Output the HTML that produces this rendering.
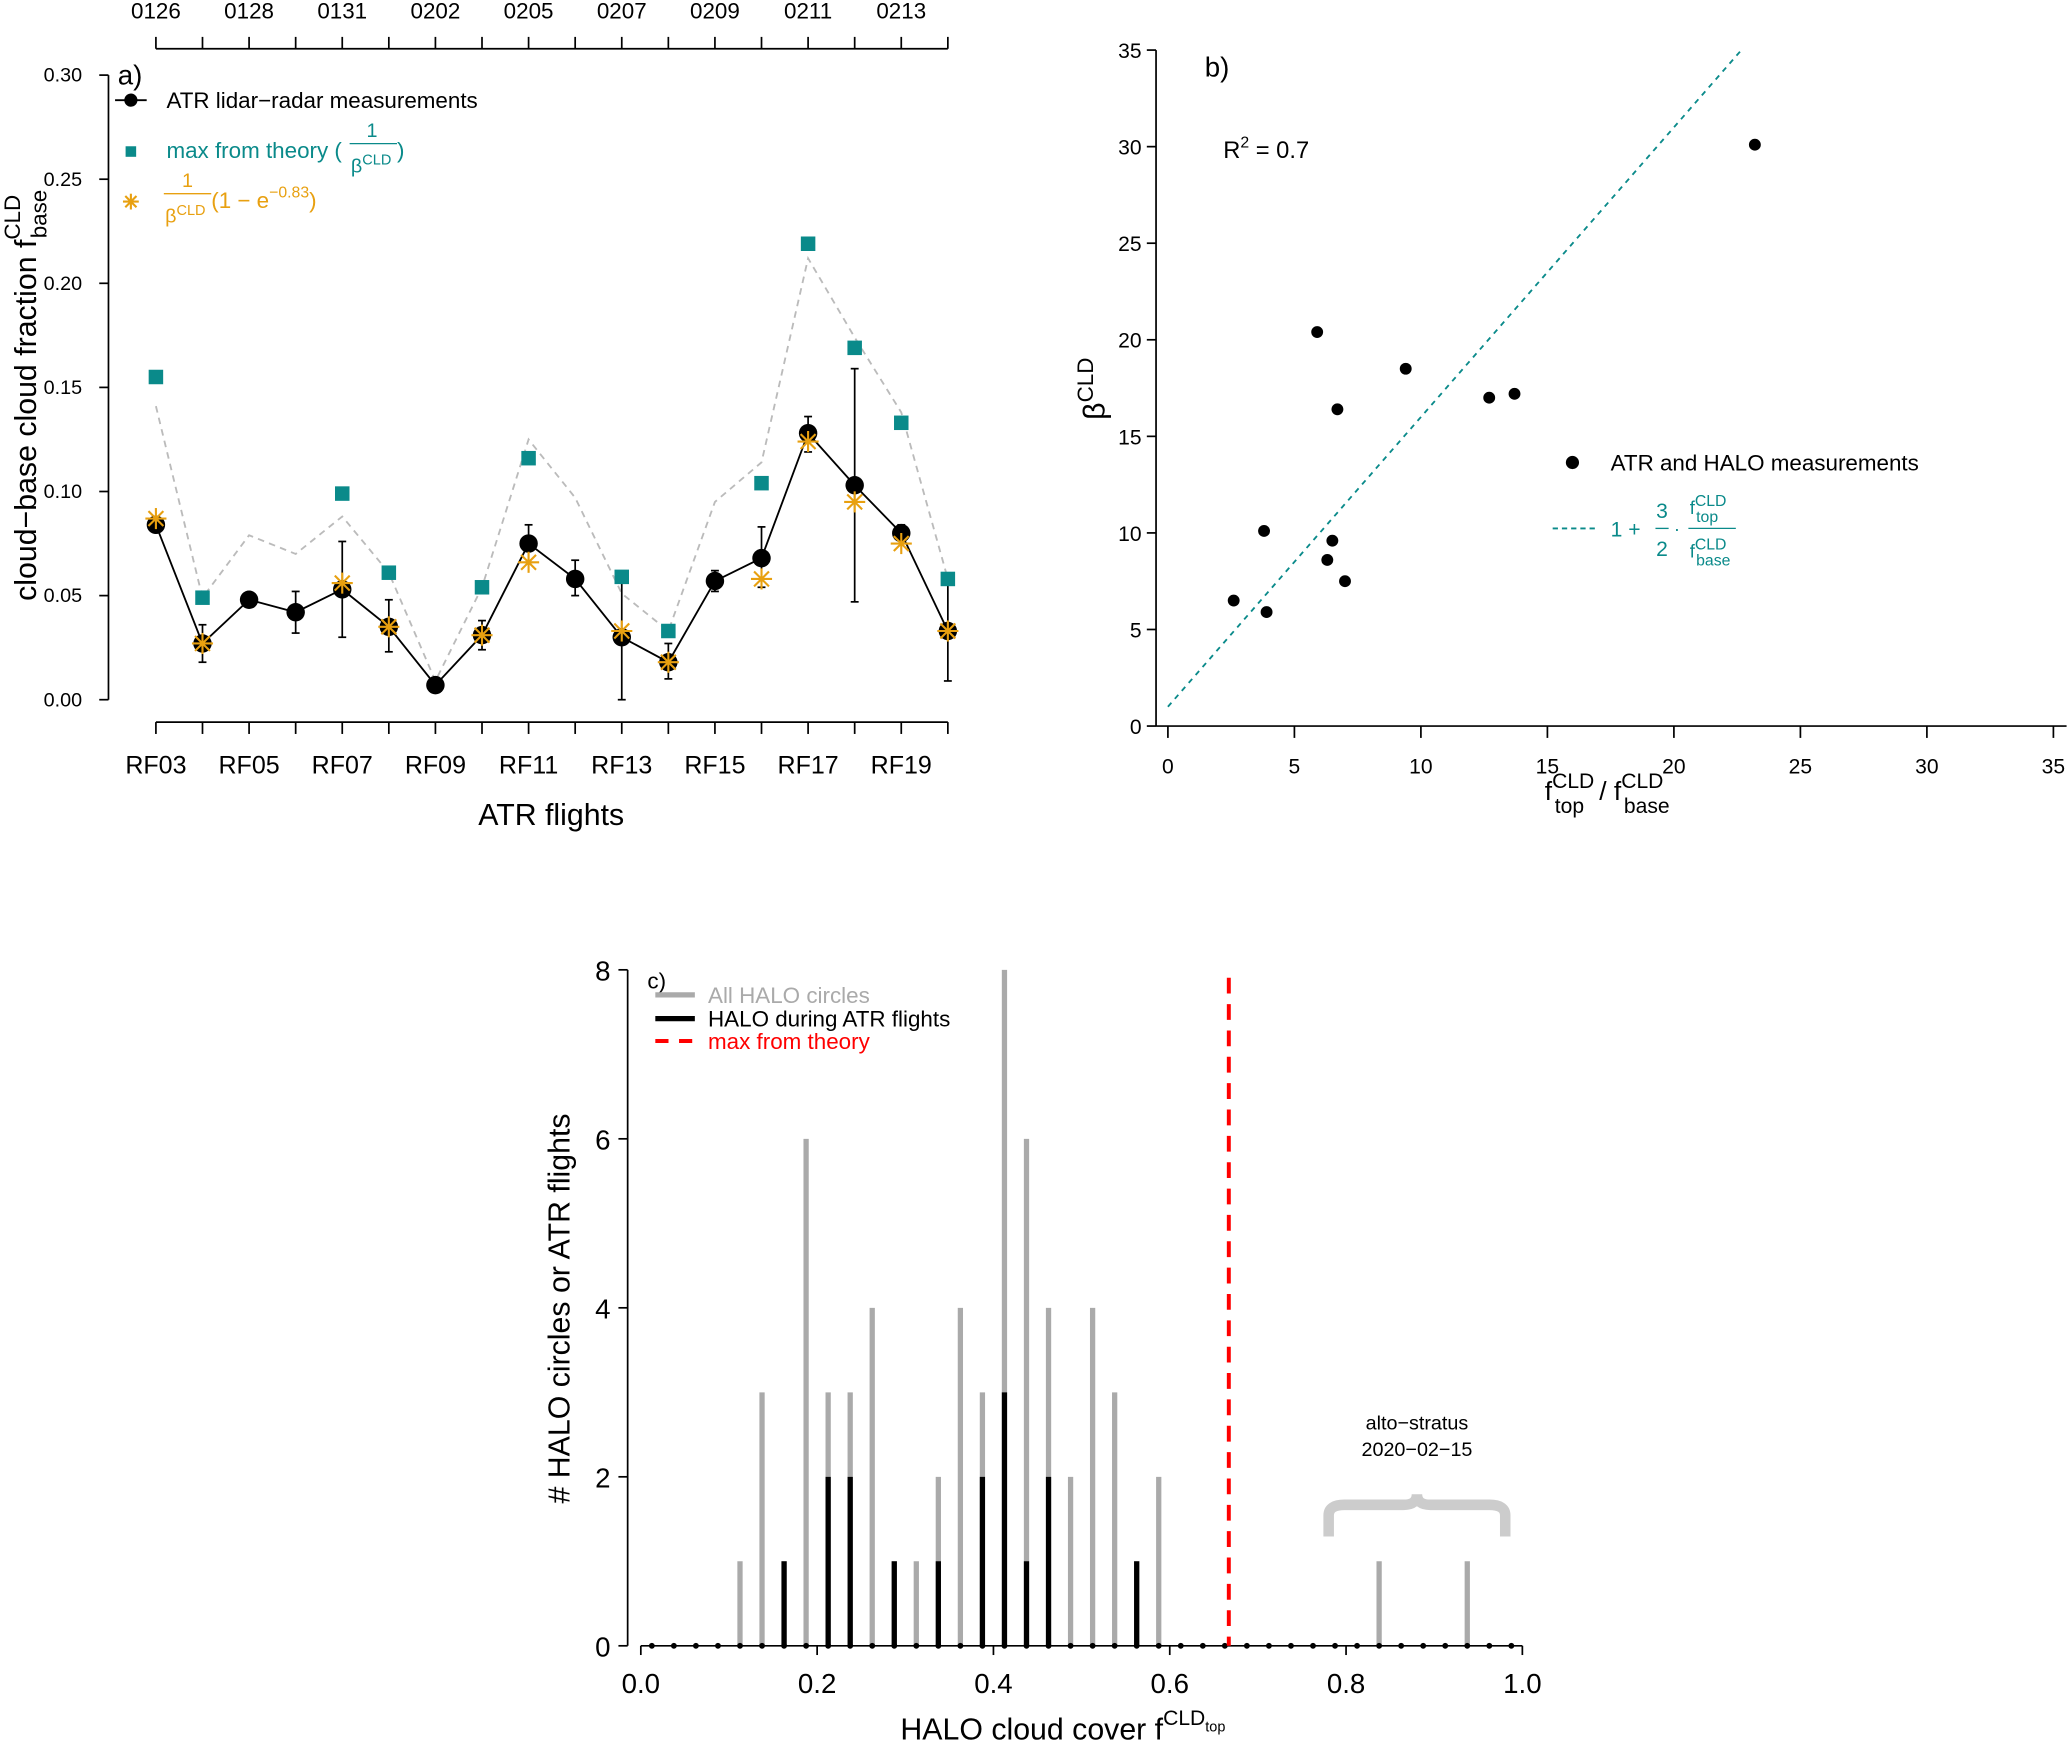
<!DOCTYPE html>
<html><head><meta charset="utf-8"><style>
html,body{margin:0;padding:0;background:#fff;}
svg{display:block;font-family:"Liberation Sans",sans-serif;}
</style></head><body>
<svg id="fig" width="2067" height="1742" viewBox="0 0 1568 1322" xmlns="http://www.w3.org/2000/svg">
<g id="pa"></g>
<g id="pb"></g>
<g id="pc"></g>
</svg>
<script>
// ---------- Panel a data ----------
const flights = ["RF03","RF04","RF05","RF06","RF07","RF08","RF09","RF10","RF11","RF12","RF13","RF14","RF15","RF16","RF17","RF18","RF19","RF20"];
const dates = ["0126","","0128","","0131","","0202","","0205","","0207","","0209","","0211","","0213",""];
const measured = [0.084,0.027,0.048,0.042,0.053,0.035,0.007,0.031,0.075,0.058,0.030,0.018,0.057,0.068,0.128,0.103,0.080,0.033];
const errLow = [0.082,0.018,null,0.032,0.030,0.023,null,0.024,0.066,0.050,0.000,0.010,0.052,0.054,0.119,0.047,0.077,0.009];
const errHigh = [0.086,0.036,null,0.052,0.076,0.048,null,0.038,0.084,0.067,0.060,0.027,0.062,0.083,0.136,0.159,0.084,0.058];
const theoryMax = [0.155,0.049,null,null,0.099,0.061,null,0.054,0.116,null,0.059,0.033,null,0.104,0.219,0.169,0.133,0.058];
const theoryLine = [0.141,0.049,0.079,0.070,0.088,0.061,0.009,0.054,0.125,0.097,0.051,0.033,0.095,0.114,0.212,0.174,0.138,0.058];
const theoryExp = [0.087,0.027,null,null,0.056,0.035,null,0.031,0.066,null,0.033,0.018,null,0.058,0.124,0.095,0.075,0.033];
const aYTicks = [0.00,0.05,0.10,0.15,0.20,0.25,0.30];
// ---------- Panel b data ----------
const ratioX = [2.6,3.8,3.9,5.9,6.3,6.5,6.7,7.0,9.4,12.7,13.7,23.2];
const betaY = [6.5,10.1,5.9,20.4,8.6,9.6,16.4,7.5,18.5,17.0,17.2,30.1];
const bTicks = [0,5,10,15,20,25,30,35];
// ---------- Panel c data ----------
const binCenters = [0.0125,0.0375,0.0625,0.0875,0.1125,0.1375,0.1625,0.1875,0.2125,0.2375,0.2625,0.2875,0.3125,0.3375,0.3625,0.3875,0.4125,0.4375,0.4625,0.4875,0.5125,0.5375,0.5625,0.5875,0.6125,0.6375,0.6625,0.6875,0.7125,0.7375,0.7625,0.7875,0.8125,0.8375,0.8625,0.8875,0.9125,0.9375,0.9625,0.9875];
const allHalo = [0,0,0,0,1,3,1,6,3,3,4,1,1,2,4,3,8,6,4,2,4,3,1,2,0,0,0,0,0,0,0,0,0,1,0,0,0,1,0,0];
const atrHalo = [0,0,0,0,0,0,1,0,2,2,0,1,0,1,0,2,3,1,2,0,0,0,1,0,0,0,0,0,0,0,0,0,0,0,0,0,0,0,0,0];
const cXTicks = [0.0,0.2,0.4,0.6,0.8,1.0];
const cYTicks = [0,2,4,6,8];
const theoryCover = 0.667;

const NS="http://www.w3.org/2000/svg";
function mk(parent,tag,attrs,text){const e=document.createElementNS(NS,tag);for(const k in attrs)e.setAttribute(k,attrs[k]);if(text!==undefined)e.textContent=text;parent.appendChild(e);return e;}

// ===== Panel a =====
const pa=document.getElementById('pa');
const ax=i=>118+i*(719-118)/17;
const ay=v=>531-v*(531-57)/0.30;
let e=mk(pa,'line',{x1:82,y1:ay(0),x2:82,y2:ay(0.30),stroke:'#000','stroke-width':1.3});

aYTicks.forEach(t=>{mk(pa,'line',{x1:75,y1:ay(t),x2:82,y2:ay(t),stroke:'#000','stroke-width':1.3});
 const tx=mk(pa,'text',{x:62,y:ay(t)+5,'font-size':15,'text-anchor':'end'},t.toFixed(2));
 });
mk(pa,'line',{x1:ax(0),y1:548,x2:ax(17),y2:548,stroke:'#000','stroke-width':1.3});
flights.forEach((f,i)=>{mk(pa,'line',{x1:ax(i),y1:548,x2:ax(i),y2:557,stroke:'#000','stroke-width':1.3});
 if(i%2===0){const tx=mk(pa,'text',{x:ax(i),y:587,'font-size':19,'text-anchor':'middle'},f);
 }});
mk(pa,'line',{x1:ax(0),y1:37,x2:ax(17),y2:37,stroke:'#000','stroke-width':1.3});
dates.forEach((d,i)=>{mk(pa,'line',{x1:ax(i),y1:28,x2:ax(i),y2:37,stroke:'#000','stroke-width':1.3});
 if(d){const tx=mk(pa,'text',{x:ax(i),y:14,'font-size':17,'text-anchor':'middle'},d);
 }});
e=mk(pa,'text',{x:418,y:626,'font-size':23,'text-anchor':'middle'},'ATR flights');

e=mk(pa,'text',{transform:'translate(27,300) rotate(-90)','font-size':23,'text-anchor':'middle'});

e.innerHTML='cloud−base cloud fraction f<tspan dy="-12" font-size="17">CLD</tspan><tspan dx="-33" dy="20" font-size="17">base</tspan>';
e=mk(pa,'text',{x:89,y:64,'font-size':21},'a)');
let pts=theoryLine.map((v,i)=>ax(i)+','+ay(v)).join(' ');
e=mk(pa,'polyline',{points:pts,fill:'none',stroke:'#bbb','stroke-width':1.4,'stroke-dasharray':'5,4'});

pts=measured.map((v,i)=>ax(i)+','+ay(v)).join(' ');
mk(pa,'polyline',{points:pts,fill:'none',stroke:'#000','stroke-width':1.4});
errLow.forEach((lo,i)=>{if(lo===null)return;const hi=errHigh[i];
 const g=mk(pa,'g',{});
 mk(g,'line',{x1:ax(i),y1:ay(lo),x2:ax(i),y2:ay(hi),stroke:'#000','stroke-width':1.3});
 mk(g,'line',{x1:ax(i)-3,y1:ay(lo),x2:ax(i)+3,y2:ay(lo),stroke:'#000','stroke-width':1.3});
 mk(g,'line',{x1:ax(i)-3,y1:ay(hi),x2:ax(i)+3,y2:ay(hi),stroke:'#000','stroke-width':1.3});});
theoryMax.forEach((v,i)=>{if(v===null)return;const r=mk(pa,'rect',{x:ax(i)-5.5,y:ay(v)-5.5,width:11,height:11,fill:'#0a8a8a'});
 });
measured.forEach((v,i)=>{const c=mk(pa,'circle',{cx:ax(i),cy:ay(v),r:7,fill:'#000'});
 });
function star(parent,x,y,s,col){const g=mk(parent,'g',{stroke:col,'stroke-width':1.6});
 for(let k=0;k<4;k++){const a=k*Math.PI/4;mk(g,'line',{x1:x-s*Math.cos(a),y1:y-s*Math.sin(a),x2:x+s*Math.cos(a),y2:y+s*Math.sin(a)});}return g;}
theoryExp.forEach((v,i)=>{if(v===null)return;const g=star(pa,ax(i),ay(v),8,'#e8a010');
 });
const la=mk(pa,'g',{});
mk(la,'line',{x1:87,y1:76,x2:111,y2:76,stroke:'#000','stroke-width':1.4});
mk(la,'circle',{cx:99,cy:76,r:5,fill:'#000'});
mk(la,'text',{x:126,y:82,'font-size':17},'ATR lidar−radar measurements');
mk(la,'rect',{x:95,y:111,width:8,height:8,fill:'#0a8a8a'});
mk(la,'text',{x:126,y:120,'font-size':17,fill:'#0a8a8a'},'max from theory (');
mk(la,'text',{x:282,y:104,'font-size':15,fill:'#0a8a8a','text-anchor':'middle'},'1');
mk(la,'line',{x1:265,y1:109,x2:301,y2:109,stroke:'#0a8a8a','stroke-width':1});
mk(la,'text',{x:266,y:131,'font-size':15,fill:'#0a8a8a'}).innerHTML='β<tspan dy="-6" font-size="11">CLD</tspan>';
mk(la,'text',{x:301,y:120,'font-size':17,fill:'#0a8a8a'},')');
star(la,99,153,6,'#e8a010');
mk(la,'text',{x:142,y:142,'font-size':15,fill:'#e8a010','text-anchor':'middle'},'1');
mk(la,'line',{x1:124,y1:147,x2:160,y2:147,stroke:'#e8a010','stroke-width':1});
mk(la,'text',{x:125,y:169,'font-size':15,fill:'#e8a010'}).innerHTML='β<tspan dy="-6" font-size="11">CLD</tspan>';
mk(la,'text',{x:160,y:158,'font-size':17,fill:'#e8a010'}).innerHTML='(1 − e<tspan dy="-8" font-size="12">−0.83</tspan><tspan dy="8">)</tspan>';

// ===== Panel b =====
const pb=document.getElementById('pb');
const bx=v=>886+v*(1558-886)/35;
const by=v=>551-v*(551-38)/35;
mk(pb,'line',{x1:877,y1:by(0),x2:877,y2:by(35),stroke:'#000','stroke-width':1.3});
mk(pb,'line',{x1:877,y1:551,x2:1568,y2:551,stroke:'#000','stroke-width':1.3});
bTicks.forEach(t=>{mk(pb,'line',{x1:870,y1:by(t),x2:877,y2:by(t),stroke:'#000','stroke-width':1.3});
 let tx=mk(pb,'text',{x:866,y:by(t)+6,'font-size':16,'text-anchor':'end'},String(t));
 
 mk(pb,'line',{x1:bx(t),y1:551,x2:bx(t),y2:560,stroke:'#000','stroke-width':1.3});
 tx=mk(pb,'text',{x:bx(t),y:587,'font-size':16,'text-anchor':'middle'},String(t));
 });
e=mk(pb,'text',{x:914,y:58,'font-size':21},'b)');
e=mk(pb,'text',{x:928,y:120,'font-size':18});e.innerHTML='R<tspan dy="-8" font-size="12">2</tspan><tspan dy="8"> = 0.7</tspan>';

const fitX0=0, fitX1=22.7;
e=mk(pb,'line',{x1:bx(fitX0),y1:by(1+1.5*fitX0),x2:bx(fitX1),y2:by(1+1.5*fitX1),stroke:'#0a8a8a','stroke-width':1.4,'stroke-dasharray':'4,4'});

ratioX.forEach((v,i)=>{const c=mk(pb,'circle',{cx:bx(v),cy:by(betaY[i]),r:4.5,fill:'#000'});
 });
e=mk(pb,'text',{transform:'translate(838,295) rotate(-90)','font-size':23,'text-anchor':'middle'});
e.innerHTML='β<tspan dy="-9" font-size="17">CLD</tspan>';
e=mk(pb,'text',{x:1172,y:607,'font-size':20});
e.innerHTML='f<tspan dy="-9" font-size="16">CLD</tspan><tspan dx="-30" dy="19" font-size="16">top</tspan><tspan dx="6" dy="-10"> / f</tspan><tspan dy="-9" font-size="16">CLD</tspan><tspan dx="-30" dy="19" font-size="16">base</tspan>';

const lb=mk(pb,'g',{});
mk(lb,'circle',{cx:1193,cy:351,r:5,fill:'#000'});
mk(lb,'text',{x:1222,y:357,'font-size':17},'ATR and HALO measurements');
mk(lb,'line',{x1:1178,y1:401,x2:1210,y2:401,stroke:'#0a8a8a','stroke-width':1.4,'stroke-dasharray':'4,3'});
mk(lb,'text',{x:1222,y:407,'font-size':16,fill:'#0a8a8a'},'1 +');
mk(lb,'text',{x:1261,y:393,'font-size':16,fill:'#0a8a8a','text-anchor':'middle'},'3');
mk(lb,'line',{x1:1256,y1:401,x2:1266,y2:401,stroke:'#0a8a8a','stroke-width':1});
mk(lb,'text',{x:1261,y:422,'font-size':16,fill:'#0a8a8a','text-anchor':'middle'},'2');
mk(lb,'text',{x:1270,y:406,'font-size':14,fill:'#0a8a8a'},'·');
mk(lb,'text',{x:1282,y:390,'font-size':14,fill:'#0a8a8a'}).innerHTML='f<tspan dy="-6" font-size="12">CLD</tspan><tspan dx="-23" dy="12" font-size="12">top</tspan>';
mk(lb,'line',{x1:1281,y1:401,x2:1317,y2:401,stroke:'#0a8a8a','stroke-width':1});
mk(lb,'text',{x:1282,y:423,'font-size':14,fill:'#0a8a8a'}).innerHTML='f<tspan dy="-6" font-size="12">CLD</tspan><tspan dx="-23" dy="12" font-size="12">base</tspan>';

// ===== Panel c =====
const pc=document.getElementById('pc');
const cx=v=>486+v*669;
const cy=v=>1249-v*(1249-736)/8;
mk(pc,'line',{x1:476,y1:cy(0),x2:476,y2:cy(8),stroke:'#000','stroke-width':1.3});
mk(pc,'line',{x1:cx(0),y1:1249,x2:cx(1),y2:1249,stroke:'#000','stroke-width':1.3});
cYTicks.forEach(t=>{mk(pc,'line',{x1:469,y1:cy(t),x2:476,y2:cy(t),stroke:'#000','stroke-width':1.3});
 const tx=mk(pc,'text',{x:463,y:cy(t)+8,'font-size':21,'text-anchor':'end'},String(t));
 });
cXTicks.forEach(t=>{mk(pc,'line',{x1:cx(t),y1:1249,x2:cx(t),y2:1256,stroke:'#000','stroke-width':1.3});
 const tx=mk(pc,'text',{x:cx(t),y:1285,'font-size':21,'text-anchor':'middle'},t.toFixed(1));
 });
binCenters.forEach((b,i)=>{
 if(allHalo[i]>0){const l=mk(pc,'line',{x1:cx(b),y1:cy(0),x2:cx(b),y2:cy(allHalo[i]),stroke:'#aaa','stroke-width':4});
  }
 if(atrHalo[i]>0){const l=mk(pc,'line',{x1:cx(b),y1:cy(0),x2:cx(b),y2:cy(atrHalo[i]),stroke:'#000','stroke-width':4});
  }
 mk(pc,'circle',{cx:cx(b),cy:cy(0),r:2.2,fill:'#000'});});
e=mk(pc,'line',{x1:cx(theoryCover),y1:742,x2:cx(theoryCover),y2:1249,stroke:'#f00','stroke-width':3,'stroke-dasharray':'12,8'});

e=mk(pc,'path',{d:'M1008,1166 L1008,1150 Q1008,1142 1020,1142 L1065,1142 Q1075,1142 1075,1134 Q1075,1142 1085,1142 L1130,1142 Q1142,1142 1142,1150 L1142,1166',fill:'none',stroke:'#ccc','stroke-width':8});

e=mk(pc,'text',{x:1075,y:1085,'font-size':15,'text-anchor':'middle'},'alto−stratus');
mk(pc,'text',{x:1075,y:1105,'font-size':15,'text-anchor':'middle'},'2020−02−15');
e=mk(pc,'text',{x:491,y:750,'font-size':17},'c)');
const lc=mk(pc,'g',{});
mk(lc,'line',{x1:497,y1:755,x2:527,y2:755,stroke:'#aaa','stroke-width':4});
mk(lc,'text',{x:537,y:761,'font-size':17,fill:'#aaa'},'All HALO circles');
mk(lc,'line',{x1:497,y1:773,x2:527,y2:773,stroke:'#000','stroke-width':4});
mk(lc,'text',{x:537,y:779,'font-size':17},'HALO during ATR flights');
mk(lc,'line',{x1:497,y1:790,x2:527,y2:790,stroke:'#f00','stroke-width':3,'stroke-dasharray':'10,8'});
mk(lc,'text',{x:537,y:796,'font-size':17,fill:'#f00'},'max from theory');
e=mk(pc,'text',{transform:'translate(432,993) rotate(-90)','font-size':23,'text-anchor':'middle'},'# HALO circles or ATR flights');

e=mk(pc,'text',{x:683,y:1320,'font-size':23});
e.innerHTML='HALO cloud cover  f<tspan dy="-11" font-size="16">CLD</tspan><tspan dy="5" font-size="11">top</tspan>';

</script>
</body></html>
